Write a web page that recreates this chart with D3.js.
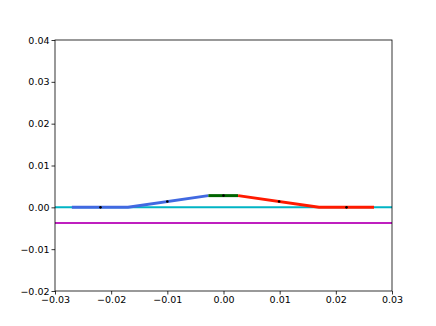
<!DOCTYPE html>
<html>
<head>
<meta charset="utf-8">
<script src="https://cdn.jsdelivr.net/npm/d3@7"></script>
<style>
body{margin:0;background:#fff;}
svg text{font-family:"DejaVu Sans",sans-serif;}
</style>
</head>
<body>
<svg id="chart"></svg>
<script>
// profile pieces
var blueX = [-0.0270, -0.0170, -0.0027]
var blueY = [0, 0, 0.0028]
var greenX = [-0.0027, 0.0026]
var greenY = [0.0028, 0.0028]
var redX = [0.0026, 0.0170, 0.0268]
var redY = [0.0028, 0, 0]
var dotX = [-0.0219, -0.0100, 0.0, 0.0099, 0.0219]
var dotY = [0, 0.00138, 0.0028, 0.00138, 0]
var baseY = 0
var lowY = -0.00375
var xTicks = [-0.03, -0.02, -0.01, 0, 0.01, 0.02, 0.03]
var yTicks = [-0.02, -0.01, 0, 0.01, 0.02, 0.03, 0.04]

var screen = {width:436,height:326}
var margins = {left:55,right:44,top:40,bottom:35}
var graph = {
    width:screen.width-margins.left-margins.right,
    height:screen.height-margins.top-margins.bottom
}

var svg = d3.select("#chart")
    .attr("width",screen.width)
    .attr("height",screen.height)

var xScale = d3.scaleLinear().domain([-0.03,0.03]).range([0,graph.width])
var yScale = d3.scaleLinear().domain([-0.02,0.04]).range([graph.height,0])

var target = svg.append("g")
    .attr("transform","translate("+margins.left+","+margins.top+")")

var fmt = function(d){
    var s = d3.format(".2f")(Math.abs(d))
    return (d < -1e-9 ? "\u2212" : "") + s
}

var line = d3.line()
    .x(function(d){return xScale(d[0])})
    .y(function(d){return yScale(d[1])})

var pairs = function(xs,ys){
    return xs.map(function(x,i){return [x,ys[i]]})
}

// horizontal reference lines
target.append("path")
    .datum([[-0.03,baseY],[0.03,baseY]])
    .attr("d",line).attr("fill","none")
    .attr("stroke","#00b4c4").attr("stroke-width",2)

target.append("path")
    .datum([[-0.03,lowY],[0.03,lowY]])
    .attr("d",line).attr("fill","none")
    .attr("stroke","#bf1fbf").attr("stroke-width",2)

target.append("path")
    .datum(pairs(blueX,blueY))
    .attr("d",line).attr("fill","none")
    .attr("stroke","#4169e1").attr("stroke-width",3)

target.append("path")
    .datum(pairs(greenX,greenY))
    .attr("d",line).attr("fill","none")
    .attr("stroke","#006400").attr("stroke-width",3)

target.append("path")
    .datum(pairs(redX,redY))
    .attr("d",line).attr("fill","none")
    .attr("stroke","#ff1a00").attr("stroke-width",3)

target.selectAll("circle")
    .data(pairs(dotX,dotY))
    .enter()
    .append("circle")
    .attr("cx",function(d){return xScale(d[0])})
    .attr("cy",function(d){return yScale(d[1])})
    .attr("r",1.3)
    .attr("fill","black")

// axes
var xAxis = d3.axisBottom(xScale).tickValues(xTicks).tickFormat(fmt).tickSize(3.5).tickPadding(2)
var yAxis = d3.axisLeft(yScale).tickValues(yTicks).tickFormat(fmt).tickSize(3.5).tickPadding(2)

target.append("g")
    .attr("transform","translate(0,"+graph.height+")")
    .call(xAxis)
target.append("g")
    .call(yAxis)

target.selectAll(".domain").remove()
target.selectAll(".tick text").attr("font-size",9.5).attr("fill","#000")
target.selectAll(".tick line").attr("stroke","#000").attr("stroke-width",0.8)

target.append("rect")
    .attr("x",0).attr("y",0)
    .attr("width",graph.width).attr("height",graph.height)
    .attr("fill","none").attr("stroke","#000").attr("stroke-width",0.8)
</script>
</body>
</html>
